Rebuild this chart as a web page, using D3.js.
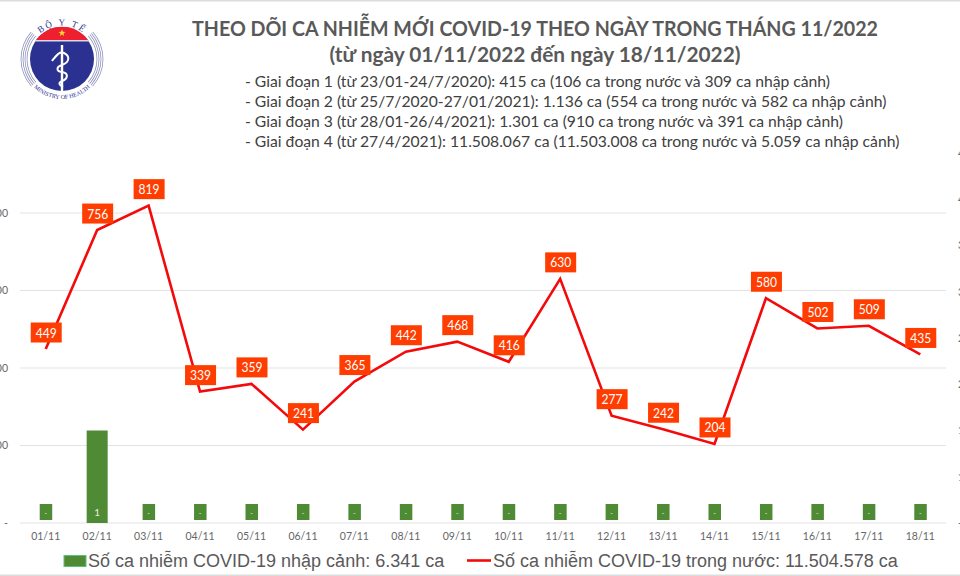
<!DOCTYPE html>
<html>
<head>
<meta charset="utf-8">
<script src="https://cdnjs.cloudflare.com/ajax/libs/d3/7.8.5/d3.min.js"></script>
<style>
  html, body { margin: 0; padding: 0; background: #fff; overflow: hidden; }
  svg { display: block; }
  .axis text { font-family: Lato, sans-serif; font-size: 10.5px; fill: #666; }
  .axis path, .axis line { display: none; }
</style>
</head>
<body>
<div id="chart"></div>
<script>
// data
var days = ["01/11","02/11","03/11","04/11","05/11","06/11","07/11","08/11","09/11","10/11","11/11","12/11","13/11","14/11","15/11","16/11","17/11","18/11"];
var domestic = [449,756,819,339,359,241,365,442,468,416,630,277,242,204,580,502,509,435];
var imported = [0,1,0,0,0,0,0,0,0,0,0,0,0,0,0,0,0,0];
var leftTicks = [0,200,400,600,800];
var rightTicks = [0,0.5,1,1.5,2,2.5,3,3.5,4];
var titleLines = ["THEO DÕI CA NHIỄM MỚI COVID-19 THEO NGÀY TRONG THÁNG 11/2022", "(từ ngày 01/11/2022 đến ngày 18/11/2022)"];
var noteLines = [
  "- Giai đoạn 1 (từ 23/01-24/7/2020): 415 ca (106 ca trong nước và 309 ca nhập cảnh)",
  "- Giai đoạn 2 (từ 25/7/2020-27/01/2021): 1.136 ca (554 ca trong nước và 582 ca nhập cảnh)",
  "- Giai đoạn 3 (từ 28/01-26/4/2021): 1.301 ca (910 ca trong nước và 391 ca nhập cảnh)",
  "- Giai đoạn 4 (từ 27/4/2021): 11.508.067 ca (11.503.008 ca trong nước và 5.059 ca nhập cảnh)"
];
var legendBar = "Số ca nhiễm COVID-19 nhập cảnh: 6.341 ca";
var legendLine = "Số ca nhiễm COVID-19 trong nước: 11.504.578 ca";

var width = 960, height = 576;
var plotLeft = 20, plotRight = 946, plotBottom = 523;
var green = "#4f8a35", red = "#f40a0a", labelRed = "#ff3d00";

var svg = d3.select("#chart").append("svg")
    .attr("width", width)
    .attr("height", height);

// thin grey rules at the top and bottom of the picture
svg.append("rect").attr("width", width).attr("height", 1.5).attr("fill", "#ddd");
svg.append("rect").attr("y", 574.5).attr("width", width).attr("height", 1.5).attr("fill", "#ddd");

var x = d3.scaleBand().domain(days).range([plotLeft, plotRight]);
var y = d3.scaleLinear().domain([0, 800]).range([plotBottom, 213]);
var y2 = d3.scaleLinear().domain([0, 4]).range([plotBottom, 153]);

// gridlines
svg.append("g").selectAll("line")
    .data(leftTicks)
    .enter().append("line")
    .attr("x1", plotLeft)
    .attr("x2", plotRight)
    .attr("y1", function(d) { return y(d); })
    .attr("y2", function(d) { return y(d); })
    .attr("stroke", "#e3e3e3")
    .attr("stroke-width", 1);

// axes, labels run off the edge like in the original
var fmtLeft = function(d) { return d === 0 ? "-" : d3.format(",")(d); };
var fmtRight = function(d) { return d === 0 ? "-" : Math.round(d + 0.001); };

svg.append("g")
    .attr("class", "axis")
    .attr("transform", "translate(" + 14 + ",0)")
    .call(d3.axisLeft(y).tickValues(leftTicks).tickFormat(fmtLeft).tickSize(0).tickPadding(6));

svg.append("g")
    .attr("class", "axis")
    .attr("transform", "translate(" + 952 + ",0)")
    .call(d3.axisRight(y2).tickValues(rightTicks).tickFormat(fmtRight).tickSize(0).tickPadding(6));

svg.append("g")
    .attr("class", "axis")
    .attr("transform", "translate(0," + 533 + ")")
    .call(d3.axisBottom(x).tickSize(0).tickPadding(0));

// bars
var barWidth = 21;
var rows = days.map(function(d, i) { return {day: d, dom: domestic[i], imp: imported[i]}; });

svg.append("g").selectAll("rect")
    .data(rows)
    .enter().append("rect")
    .attr("x", function(d) { return x(d.day) + x.bandwidth() / 2 - barWidth / 2; })
    .attr("y", function(d) { return y2(d.imp); })
    .attr("width", barWidth)
    .attr("height", function(d) { return plotBottom - y2(d.imp); })
    .attr("fill", green);

// bar data labels sit in small green boxes just above the axis
svg.append("g").selectAll("rect")
    .data(rows)
    .enter().append("rect")
    .attr("x", function(d) { return x(d.day) + x.bandwidth() / 2 - 6; })
    .attr("y", plotBottom - 19)
    .attr("width", 12.5)
    .attr("height", 16)
    .attr("fill", green);

svg.append("g").selectAll("text")
    .data(rows)
    .enter().append("text")
    .attr("x", function(d) { return x(d.day) + x.bandwidth() / 2; })
    .attr("y", plotBottom - 7)
    .attr("text-anchor", "middle")
    .attr("font-family", "Lato, sans-serif")
    .attr("font-size", function(d) { return d.imp === 0 ? 7 : 10; })
    .attr("fill", "#e4efdd")
    .text(function(d) { return d.imp === 0 ? "-" : d.imp; });

// line
var line = d3.line()
    .x(function(d) { return x(d.day) + x.bandwidth() / 2; })
    .y(function(d) { return y(d.dom); });

svg.append("path")
    .datum(rows)
    .attr("d", line)
    .attr("fill", "none")
    .attr("stroke", red)
    .attr("stroke-width", 2.6)
    .attr("stroke-linejoin", "miter");

// line data labels
var labels = svg.append("g").selectAll("g")
    .data(rows)
    .enter().append("g")
    .attr("transform", function(d) {
        return "translate(" + (x(d.day) + x.bandwidth() / 2 + 0.5) + "," + (y(d.dom) - 16.5) + ")";
    });

labels.append("rect")
    .attr("x", -15.5)
    .attr("y", -10)
    .attr("width", 31)
    .attr("height", 20)
    .attr("fill", labelRed);

labels.append("text")
    .attr("y", 5)
    .attr("text-anchor", "middle")
    .attr("font-family", "Lato, sans-serif")
    .attr("font-size", 14)
    .attr("textLength", 21)
    .attr("lengthAdjust", "spacingAndGlyphs")
    .attr("fill", "#fff")
    .text(function(d) { return d.dom; });

// title block
svg.append("g").selectAll("text")
    .data(titleLines)
    .enter().append("text")
    .attr("x", 535)
    .attr("y", function(d, i) { return 36 + i * 26; })
    .attr("text-anchor", "middle")
    .attr("font-family", "Lato, 'Open Sans', sans-serif")
    .attr("font-weight", 700)
    .attr("font-size", 21)
    .attr("textLength", function(d, i) { return i === 0 ? 686 : 411; })
    .attr("lengthAdjust", "spacingAndGlyphs")
    .attr("fill", "#595959")
    .text(function(d) { return d; });

svg.append("g").selectAll("text")
    .data(noteLines)
    .enter().append("text")
    .attr("x", 245)
    .attr("y", function(d, i) { return 87 + i * 20; })
    .attr("font-family", "Lato, 'Open Sans', sans-serif")
    .attr("font-size", 15.7)
    .attr("fill", "#404040")
    .text(function(d) { return d; });

// legend
svg.append("rect")
    .attr("x", 64).attr("y", 555.5)
    .attr("width", 22).attr("height", 11)
    .attr("fill", green)
    .attr("stroke", "#5fc07c")
    .attr("stroke-width", 1);

svg.append("text")
    .attr("x", 88).attr("y", 567)
    .attr("font-family", "'Liberation Sans', sans-serif")
    .attr("font-size", 18)
    .attr("fill", "#595959")
    .text(legendBar);

svg.append("line")
    .attr("x1", 467).attr("x2", 491)
    .attr("y1", 560.5).attr("y2", 560.5)
    .attr("stroke", red)
    .attr("stroke-width", 2.6);

svg.append("text")
    .attr("x", 493).attr("y", 567)
    .attr("font-family", "'Liberation Sans', sans-serif")
    .attr("font-size", 18)
    .attr("fill", "#595959")
    .text(legendLine);

// ministry logo
var logo = svg.append("g").attr("transform", "translate(62,59)");
var navy = "#2a3190";

logo.append("circle").attr("r", 32).attr("fill", navy);
logo.append("path")
    .attr("d", "M-26,-19 A32,32 0 0 1 26,-19 Z")
    .attr("fill", "#ee2030");
logo.append("rect").attr("x", -27).attr("y", -19).attr("width", 54).attr("height", 1.5).attr("fill", "#d8d8e8");

// star
var star = d3.range(10).map(function(i) {
    var r = i % 2 ? 1.5 : 3.6, a = -Math.PI / 2 + i * Math.PI / 5;
    return [r * Math.cos(a), r * Math.sin(a)];
});
logo.append("path")
    .attr("transform", "translate(0,-26)")
    .attr("d", d3.line()(star) + "Z")
    .attr("fill", "#ffd92e");

// wreath
[35, 37, 39, 41].forEach(function(r) {
    [[-2.3, -0.85], [0.85, 2.3]].forEach(function(a) {
        logo.append("path")
            .attr("d", d3.arc().innerRadius(r - 0.4).outerRadius(r + 0.4).startAngle(a[0]).endAngle(a[1])())
            .attr("fill", "#8f93bd");
    });
});

// staff and snake
logo.append("rect").attr("x", -1.2).attr("y", -14).attr("width", 2.4).attr("height", 46).attr("fill", "#fff");
logo.append("path")
    .attr("d", "M-10,2 C-6,-3 -3,-8 2,-6 C8,-3 8,3 0,6 C-6,8 -6,12 0,13 C7,14 6,20 0,22 C-4,24 -3,26 1,28")
    .attr("fill", "none")
    .attr("stroke", "#fff")
    .attr("stroke-width", 2);

// round text
var defs = svg.append("defs");
defs.append("path").attr("id", "logoTop").attr("d", "M-29,-17 A33.6,33.6 0 0 1 29,-17");
defs.append("path").attr("id", "logoBottom").attr("d", "M-32,24 A40,40 0 0 0 32,24");

logo.append("text")
    .attr("font-family", "'Liberation Serif', serif")
    .attr("font-size", 9)
    .attr("letter-spacing", 2)
    .attr("fill", navy)
    .append("textPath")
    .attr("href", "#logoTop")
    .attr("startOffset", "50%")
    .attr("text-anchor", "middle")
    .text("BỘ Y TẾ");

logo.append("text")
    .attr("font-family", "'Liberation Serif', serif")
    .attr("font-size", 6)
    .attr("fill", navy)
    .append("textPath")
    .attr("href", "#logoBottom")
    .attr("startOffset", "50%")
    .attr("text-anchor", "middle")
    .text("MINISTRY OF HEALTH");
</script>
</body>
</html>
